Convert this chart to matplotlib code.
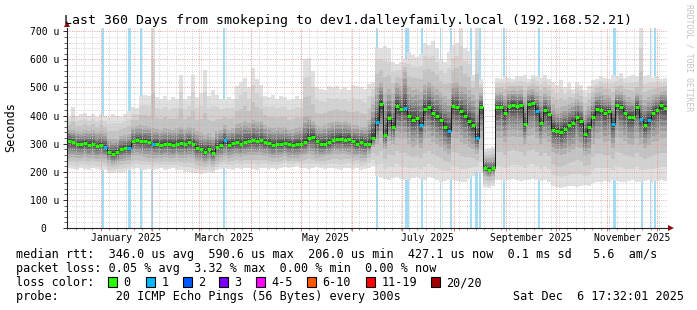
#!/usr/bin/env python3
from datetime import datetime
import numpy as np
import matplotlib
matplotlib.use('Agg')
import matplotlib.pyplot as plt
import matplotlib.dates as mdates
from matplotlib.patches import Rectangle
from matplotlib.transforms import blended_transform_factory

plt.rcParams['font.family'] = ['DejaVu Sans Mono']

# 150 consolidated samples (2.4 days each) over the last 360 days, values in microseconds
start = datetime(2024, 12, 11, 17, 32, 1)
span_days = 360

# median rtt
med = [310, 305, 300, 298, 302, 296, 300, 292, 295, 290,
       270, 265, 270, 280, 285, 285, 308, 312, 310, 308,
       305, 298, 300, 295, 298, 300, 296, 300, 302, 298,
       305, 300, 285, 280, 272, 280, 268, 290, 295, 312,
       296, 302, 305, 300, 305, 310, 312, 308, 312, 305,
       302, 295, 300, 300, 302, 298, 296, 298, 300, 305,
       322, 325, 310, 298, 300, 305, 312, 315, 318, 312,
       315, 310, 300, 305, 300, 298, 322, 378, 440, 330,
       392, 360, 435, 425, 428, 400, 385, 390, 366, 425,
       432, 410, 400, 385, 360, 345, 435, 430, 415, 400,
       380, 365, 320, 432, 215, 208, 212, 430, 432, 410,
       435, 438, 435, 437, 370, 440, 445, 418, 375, 420,
       405, 350, 345, 340, 354, 368, 375, 395, 380, 335,
       360, 395, 425, 420, 410, 415, 370, 437, 430, 410,
       395, 395, 432, 388, 366, 386, 410, 420, 437, 428]

# smoke: lowest ping, lower core, upper core, highest ping
lo = [212, 210, 208, 212, 210, 208, 212, 210, 205, 208,
      195, 195, 198, 196, 200, 205, 210, 212, 210, 208,
      210, 205, 210, 212, 208, 210, 212, 208, 205, 200,
      198, 195, 195, 192, 195, 198, 195, 205, 210, 212,
      210, 208, 212, 210, 215, 212, 210, 208, 212, 215,
      210, 212, 210, 215, 218, 215, 218, 220, 215, 212,
      210, 215, 218, 212, 210, 215, 212, 210, 208, 212,
      215, 210, 212, 208, 210, 215, 220, 185, 180, 175,
      172, 178, 182, 175, 170, 172, 178, 180, 175, 172,
      180, 178, 170, 165, 168, 172, 170, 168, 165, 165,
      175, 185, 200, 195, 145, 142, 148, 170, 172, 168,
      170, 175, 172, 168, 170, 172, 175, 170, 168, 172,
      165, 150, 145, 142, 145, 148, 150, 145, 148, 152,
      150, 160, 165, 162, 168, 165, 170, 168, 165, 162,
      168, 170, 165, 162, 168, 170, 165, 168, 170, 168]

q1 = [250, 252, 248, 250, 252, 248, 250, 245, 248, 245,
      232, 228, 230, 238, 240, 242, 255, 258, 255, 252,
      250, 248, 250, 248, 252, 250, 248, 252, 250, 248,
      252, 250, 238, 235, 230, 235, 228, 240, 248, 255,
      250, 252, 255, 252, 255, 258, 260, 258, 260, 255,
      252, 248, 250, 252, 255, 250, 248, 250, 252, 258,
      262, 258, 250, 252, 255, 258, 262, 265, 262, 265,
      260, 252, 255, 250, 250, 265, 290, 300, 320, 280,
      310, 300, 320, 315, 318, 300, 290, 295, 285, 315,
      320, 305, 300, 290, 275, 265, 320, 318, 305, 300,
      290, 280, 265, 320, 185, 180, 185, 320, 322, 305,
      325, 328, 325, 325, 300, 328, 330, 320, 300, 315,
      305, 270, 262, 258, 265, 272, 278, 290, 285, 255,
      265, 300, 315, 318, 305, 308, 285, 325, 320, 310,
      300, 295, 318, 300, 285, 295, 305, 310, 318, 320]

q3 = [350, 348, 345, 342, 348, 345, 350, 340, 345, 340,
      320, 315, 318, 328, 330, 335, 360, 362, 365, 362,
      360, 355, 352, 350, 355, 352, 350, 355, 360, 352,
      358, 355, 345, 340, 330, 338, 325, 345, 350, 365,
      350, 355, 370, 375, 380, 372, 385, 378, 380, 365,
      360, 355, 358, 355, 360, 350, 352, 355, 358, 395,
      400, 380, 365, 360, 365, 372, 378, 380, 378, 380,
      375, 365, 368, 360, 358, 385, 440, 500, 520, 480,
      495, 480, 515, 505, 560, 500, 490, 495, 485, 510,
      520, 505, 495, 485, 470, 460, 515, 520, 505, 500,
      490, 475, 460, 480, 250, 248, 252, 480, 485, 470,
      488, 490, 488, 490, 465, 492, 495, 485, 470, 480,
      470, 440, 425, 430, 435, 440, 445, 460, 450, 420,
      435, 465, 480, 485, 472, 475, 455, 490, 485, 475,
      465, 460, 482, 475, 455, 465, 472, 478, 485, 488]

hi = [395, 430, 400, 405, 410, 400, 405, 395, 405, 400,
      395, 405, 400, 395, 405, 415, 430, 427, 470, 475,
      470, 720, 465, 460, 470, 455, 465, 460, 545, 460,
      470, 545, 465, 480, 562, 470, 490, 475, 460, 455,
      465, 460, 505, 520, 535, 500, 569, 530, 510, 470,
      465, 475, 460, 470, 465, 455, 460, 470, 460, 600,
      605, 560, 500, 495, 490, 505, 500, 505, 495, 500,
      490, 510, 505, 500, 495, 512, 520, 645, 640, 648,
      640, 590, 585, 590, 600, 625, 615, 610, 620, 660,
      650, 665, 640, 600, 590, 625, 650, 660, 720, 640,
      630, 545, 720, 530, 280, 285, 290, 535, 530, 540,
      535, 530, 540, 540, 545, 530, 545, 540, 535, 545,
      530, 520, 510, 525, 500, 515, 495, 520, 510, 490,
      505, 525, 530, 540, 535, 530, 545, 540, 550, 535,
      540, 545, 540, 720, 540, 545, 535, 540, 530, 535]

# samples where 1 of 20 pings was lost
one_loss = [9, 15, 21, 39, 77, 84, 88, 95, 102, 117, 136, 143, 145]

# loss events shown as background bars: day offset from start, length in days
loss_day = [21.6, 37.2, 44.4, 51.0, 94.2, 185.8, 204.0, 212.8, 224.1, 230.2,
            242.2, 245.8, 247.8, 262.2, 283.2, 328.2, 345.0, 350.2, 352.8]
loss_len = [1.2, 1.8, 0.9, 1.2, 1.2, 1.2, 2.4, 1.2, 0.9, 1.2,
            1.2, 1.8, 1.2, 1.2, 1.2, 1.8, 1.2, 0.9, 0.9]

title = "Last 360 Days from smokeping to dev1.dalleyfamily.local (192.168.52.21)"
line_rtt = "median rtt:  346.0 us avg  590.6 us max  206.0 us min  427.1 us now  0.1 ms sd   5.6  am/s"
line_loss = "packet loss: 0.05 % avg  3.32 % max  0.00 % min  0.00 % now"
line_probe = "probe:        20 ICMP Echo Pings (56 Bytes) every 300s"
stamp = "Sat Dec  6 17:32:01 2025"
loss_labels = ['0', '1', '2', '3', '4-5', '6-10', '11-19', '20/20']
loss_colors = ['#26ff00', '#00b8ff', '#0059ff', '#7e00ff', '#ff00ff', '#ff5500', '#ff0000', '#a10000']
y_values = [0, 100, 200, 300, 400, 500, 600, 700]
y_labels = ['0  ', '100 u', '200 u', '300 u', '400 u', '500 u', '600 u', '700 u']

W, H = 697, 310
fig = plt.figure(figsize=(W / 100, H / 100), dpi=100)
fig.patch.set_facecolor('white')
ax = fig.add_axes([67 / W, (H - 228) / H, 600 / W, 200 / H])


def fx(x):
    return x / W


def fy(y):
    return 1 - y / H


med_a, lo_a, hi_a, q1_a, q3_a = (np.array(a, float) for a in (med, lo, hi, q1, q3))
n = len(med_a)
t0 = mdates.date2num(start)
t1 = t0 + span_days
edges = t0 + np.arange(n + 1) * span_days / n


def ext(a):
    return np.append(a, a[-1])


def mix(a, b, f):
    return a + (b - a) * f


# loss background bars
for d, w in zip(loss_day, loss_len):
    ax.axvspan(t0 + d - w / 2, t0 + d + w / 2, color='#a0def8', lw=0, zorder=1)

# smoke layers, light outside to dark near the median
outer = [(0.0, '#e0e0e0'), (0.33, '#d2d2d2'), (0.66, '#c2c2c2'), (1.0, '#b0b0b0')]
inner = [(0.22, '#9c9c9c'), (0.42, '#878787'), (0.6, '#707070'), (0.75, '#5a5a5a'), (0.87, '#444444')]
for f, c in outer:
    ax.fill_between(edges, ext(mix(lo_a, q1_a, f)), ext(mix(hi_a, q3_a, f)),
                    step='post', color=c, lw=0, zorder=2)
for f, c in inner:
    ax.fill_between(edges, ext(mix(q1_a, med_a, f)), ext(mix(q3_a, med_a, f)),
                    step='post', color=c, lw=0, zorder=2)

# grid (dotted, drawn over the smoke like rrdtool does)
dots = (0, (1, 1.5))
for v in np.arange(20, 711, 20):
    if v % 100:
        ax.axhline(v, color='#cccccc', lw=0.65, ls=dots, zorder=3)
for v in y_values[1:]:
    ax.axhline(v, color='#ee9090', lw=0.65, ls=dots, zorder=3)

jan1 = mdates.date2num(datetime(2025, 1, 1))
minor_days = np.arange(jan1 - 25, t1, 5)
minor_days = minor_days[minor_days > t0]
month_days = [mdates.date2num(datetime(2025, m, 1)) for m in range(1, 13)]
for d in minor_days:
    ax.axvline(d, color='#cccccc', lw=0.65, ls=dots, zorder=3)
for d in month_days:
    ax.axvline(d, color='#ee9090', lw=0.65, ls=dots, zorder=3)

# median line and loss-coloured median marks
ax.step(edges, ext(med_a), where='post', color='#1a1a1a', lw=0.7, zorder=4)
lost = np.zeros(n, int)
lost[one_loss] = 1
ax.hlines(med_a, edges[:-1], edges[1:], colors=[loss_colors[k] for k in lost], lw=2.2, zorder=5)

ax.set_xlim(t0, t1)
ax.set_ylim(0, 711.7)
ax.set_facecolor('white')
for s in ('top', 'right'):
    ax.spines[s].set_visible(False)
for s in ('left', 'bottom'):
    ax.spines[s].set_color('#222222')
    ax.spines[s].set_linewidth(0.8)
    ax.spines[s].set_zorder(6)

ax.set_xticks(month_days)
ax.set_xticks(minor_days, minor=True)
ax.tick_params(axis='x', which='both', labelbottom=False, direction='out')
ax.tick_params(axis='x', which='major', length=2.2, width=0.72, color='#e07070')
ax.tick_params(axis='x', which='minor', length=1.5, width=0.72, color='#999999')

ax.set_yticks(y_values, y_labels)
ax.set_yticks(np.arange(0, 711, 20), minor=True)
ax.tick_params(axis='y', which='major', length=2.9, width=0.72, pad=2.9, labelsize=7.06, color='#333333')
ax.tick_params(axis='y', which='minor', length=2.0, width=0.72, color='#666666')

trans = blended_transform_factory(ax.transData, ax.transAxes)
for m in (1, 3, 5, 7, 9, 11):
    d = datetime(2025, m, 16)
    ax.text(mdates.date2num(d), -13 / 200, d.strftime('%B %Y'), transform=trans,
            ha='center', va='baseline', fontsize=7.06)

# axis arrows
ax.plot([0], [1.02], marker='^', ms=4.5, mew=0, color='#8b1010',
        transform=ax.transAxes, clip_on=False, zorder=7)
ax.plot([1.006], [0], marker='>', ms=4.5, mew=0, color='#8b1010',
        transform=ax.transAxes, clip_on=False, zorder=7)

# texts
fig.text(fx(64), fy(24), title, fontsize=9.5, va='baseline', ha='left')
fig.text(fx(11), fy(127.5), 'Seconds', rotation=90, fontsize=8.5, ha='center', va='center')
fig.text(fx(689), fy(58), 'RRDTOOL / TOBI OETIKER', rotation=270, fontsize=5.8,
         color='#c4c4c4', ha='center', va='center')

fig.text(fx(16), fy(258), line_rtt, fontsize=8.5, va='baseline')
fig.text(fx(16), fy(272), line_loss, fontsize=8.5, va='baseline')
fig.text(fx(16), fy(286), 'loss color:', fontsize=8.5, va='baseline')
fig.text(fx(16), fy(300), line_probe, fontsize=8.5, va='baseline')
fig.text(fx(513), fy(300), stamp, fontsize=8.5, va='baseline')

box_x = [108, 146, 183, 219, 256, 307, 366, 431]
for bx, lab, c in zip(box_x, loss_labels, loss_colors):
    fig.patches.append(Rectangle((fx(bx), fy(287)), 9 / W, 10 / H, transform=fig.transFigure,
                                 facecolor=c, edgecolor='black', lw=0.8))
    fig.text(fx(bx + 15.5), fy(286), lab, fontsize=8.5, va='baseline')

fig.savefig('out.png', dpi=100, facecolor='white')
